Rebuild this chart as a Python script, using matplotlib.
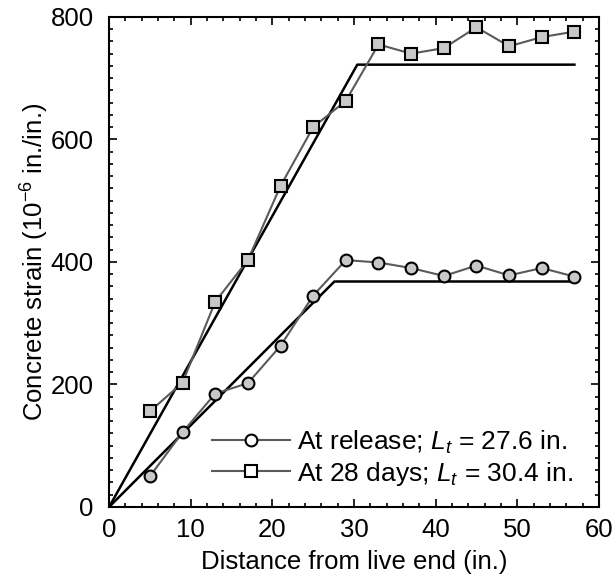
import matplotlib
matplotlib.use('Agg')
import matplotlib.pyplot as plt
from matplotlib.lines import Line2D
from matplotlib.ticker import MultipleLocator

plt.rcParams['font.family'] = ['Liberation Sans', 'DejaVu Sans']
plt.rcParams['mathtext.fontset'] = 'custom'
plt.rcParams['mathtext.rm'] = 'Liberation Sans'
plt.rcParams['mathtext.it'] = 'Liberation Sans:italic'

# measured strains (10^-6 in./in.) along the member
distance = [5, 9, 13, 17, 21, 25, 29, 33, 37, 41, 45, 49, 53, 57]
release = [50, 122, 185, 202, 263, 345, 403, 399, 390, 377, 394, 378, 390, 376]
days28 = [156, 203, 335, 403, 524, 620, 663, 755, 740, 749, 783, 752, 767, 776]

# bilinear fits (transfer length, plateau strain)
fit_release_x = [0, 27.6, 57]
fit_release_y = [0, 368, 368]
fit_28_x = [0, 30.4, 57]
fit_28_y = [0, 722, 722]

fig = plt.figure(figsize=(6.13, 5.82), dpi=100)
ax = fig.add_axes([0.178, 0.129, 0.799, 0.842])

ax.plot(fit_release_x, fit_release_y, color='black', lw=1.8, zorder=2)
ax.plot(fit_28_x, fit_28_y, color='black', lw=1.8, zorder=2)

ax.plot(distance, release, color='#5a5a5a', lw=1.5, marker='o', ms=8.5,
        mfc='#c8c8c8', mec='black', mew=1.5, zorder=3)
ax.plot(distance, days28, color='#5a5a5a', lw=1.5, marker='s', ms=8,
        mfc='#c8c8c8', mec='black', mew=1.5, zorder=3)

ax.set_xlim(0, 60)
ax.set_ylim(0, 800)
ax.xaxis.set_major_locator(MultipleLocator(10))
ax.xaxis.set_minor_locator(MultipleLocator(2))
ax.yaxis.set_major_locator(MultipleLocator(200))
ax.yaxis.set_minor_locator(MultipleLocator(20))
ax.tick_params(which='both', direction='in', top=True, right=True, labelsize=18.5, width=1.2)
ax.tick_params(which='major', length=6)
ax.tick_params(which='minor', length=3)
ax.tick_params(axis='x', pad=8)
ax.tick_params(axis='y', pad=11)
for s in ax.spines.values():
    s.set_linewidth(1.5)

ax.set_xlabel('Distance from live end (in.)', fontsize=18.5, labelpad=6)
ax.set_ylabel('Concrete strain (10$^{-6}$ in./in.)', fontsize=18.5, labelpad=0)

handles = [
    Line2D([], [], color='#5a5a5a', lw=1.5, marker='o', ms=8.5, mfc='white', mec='black', mew=1.5),
    Line2D([], [], color='#5a5a5a', lw=1.5, marker='s', ms=8, mfc='white', mec='black', mew=1.5),
]
labels = ['At release; $L_t$ = 27.6 in.', 'At 28 days; $L_t$ = 30.4 in.']
ax.legend(handles, labels, frameon=False, fontsize=19, handlelength=2.95,
          handletextpad=0.28, labelspacing=0.15, loc='upper left',
          bbox_to_anchor=(0.21, 0.16), borderaxespad=0, borderpad=0)

fig.savefig('out.png', dpi=100)
